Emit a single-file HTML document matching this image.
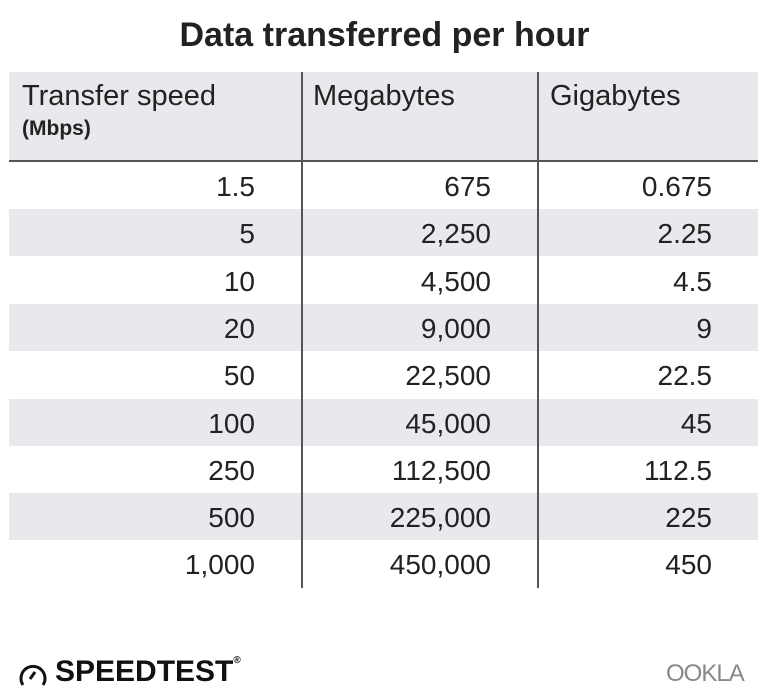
<!DOCTYPE html>
<html><head><style>
body{margin:0;width:769px;height:698px;background:#fff;position:relative;font-family:"Liberation Sans",sans-serif;color:#222;overflow:hidden}
.t{position:absolute;white-space:nowrap}
.row{position:absolute;left:9px;width:749px;height:47.2px}
.g{background:#e9e9ed}
.n{position:absolute;font-size:28px;font-weight:300;text-align:right;width:200px;line-height:49px}
.v{position:absolute;width:2px;background:#555;top:72px;height:516px}
</style></head><body>
<div class="t" style="left:0;width:769px;text-align:center;top:16px;font-size:34px;font-weight:bold;color:#222">Data transferred per hour</div>
<div class="row g" style="top:72px;height:88px"></div>
<div style="position:absolute;left:9px;width:749px;top:160px;height:2px;background:#555"></div>
<div class="t" style="left:22px;top:80px;font-size:29px">Transfer speed</div>
<div class="t" style="left:22px;top:117px;font-size:21px;font-weight:bold">(Mbps)</div>
<div class="t" style="left:313px;top:80px;font-size:29px">Megabytes</div>
<div class="t" style="left:550px;top:80px;font-size:29px">Gigabytes</div>
<div id="rows"></div>
<div class="v" style="left:301px"></div>
<div class="v" style="left:537px"></div>
<svg style="position:absolute;left:18px;top:660px" width="30" height="28" viewBox="0 0 30 28"><path d="M5 25 A12 12 0 1 1 25 25" fill="none" stroke="#111" stroke-width="3"/><path d="M12 19 L17 12" stroke="#111" stroke-width="3"/></svg>
<div class="t" style="left:55px;top:655px;font-size:30px;font-weight:bold;color:#111">SPEEDTEST<span style="font-size:10px;vertical-align:top">®</span></div>
<div class="t" style="left:666px;top:660px;font-size:24px;color:#888;letter-spacing:-1px">OOKLA</div>
<script>
var d=[["1.5","675","0.675"],["5","2,250","2.25"],["10","4,500","4.5"],["20","9,000","9"],["50","22,500","22.5"],["100","45,000","45"],["250","112,500","112.5"],["500","225,000","225"],["1,000","450,000","450"]];
var h="";d.forEach(function(r,i){var y=162+i*47.3;
h+='<div class="row'+(i%2?' g':'')+'" style="top:'+y+'px"></div>';
h+='<div class="n" style="left:55px;top:'+y+'px">'+r[0]+'</div>';
h+='<div class="n" style="left:291px;top:'+y+'px">'+r[1]+'</div>';
h+='<div class="n" style="left:512px;top:'+y+'px">'+r[2]+'</div>';});
document.getElementById("rows").innerHTML=h;
</script>
</body></html>
